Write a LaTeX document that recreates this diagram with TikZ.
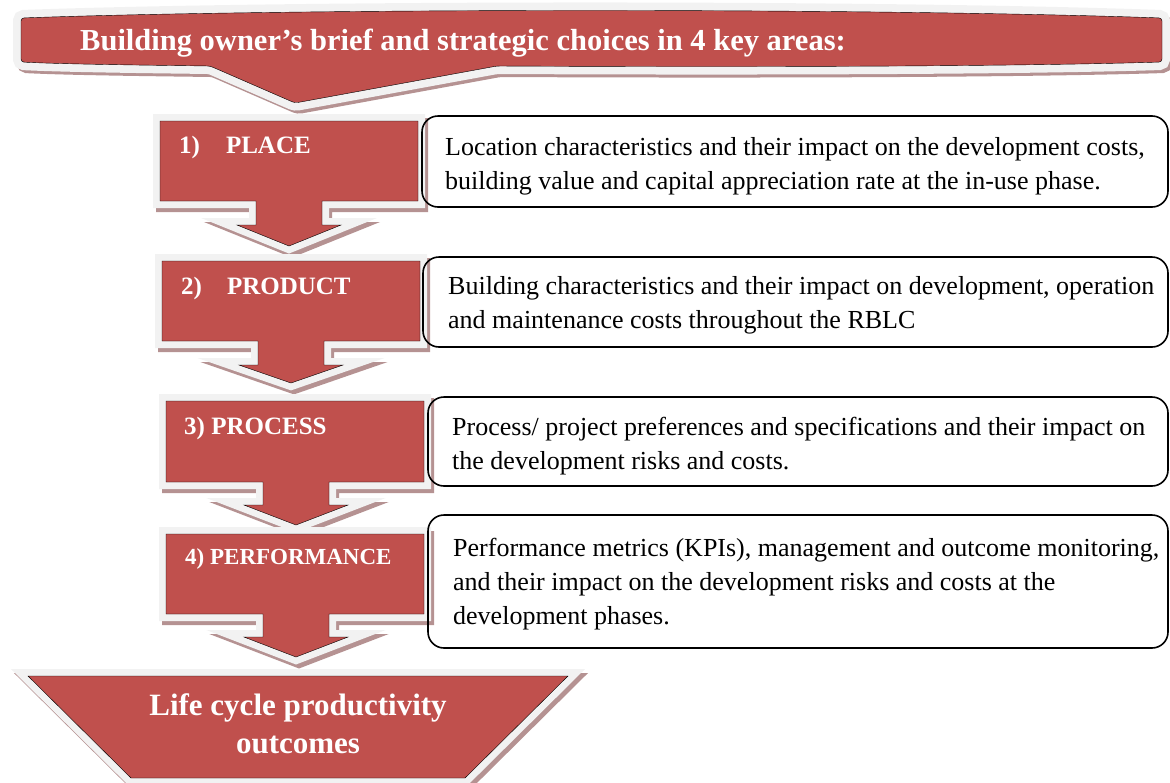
\documentclass[tikz,border=0pt]{standalone}
\usepackage{fontspec}
\setmainfont{Liberation Serif}
\definecolor{boxred}{RGB}{192,80,77}
\definecolor{rimgray}{RGB}{242,242,242}
\definecolor{shadowred}{RGB}{181,146,146}
% banner with pointer at the top
\newcommand{\bannershape}[1]{%
  \draw[#1,rounded corners=3pt] (21,-18) .. controls (300,-8) and (880,-8) .. (1162,-18)
    -- (1162,-62) .. controls (1000,-67) and (700,-67) .. (497,-66) -- (295,-103)
    -- (210,-66) .. controls (130,-65) and (60,-64) .. (21,-62) -- cycle;}
% box with arrow below: style, left, right, top, bottom, centre, stem end, tip
\newcommand{\stepshape}[8]{%
  \draw[#1] (#2,-#4) -- (#3,-#4) -- (#3,-#5) -- ({#6+33},-#5) -- ({#6+33},-#7)
    -- ({#6+52},-#7) -- (#6,-#8) -- ({#6-52},-#7) -- ({#6-33},-#7) -- ({#6-33},-#5)
    -- (#2,-#5) -- cycle;}
\newcommand{\outshape}[1]{%
  \draw[#1] (28,-676) -- (568,-676) -- (465,-778) -- (131,-778) -- cycle;}

\begin{document}
\begin{tikzpicture}[x=1pt,y=1pt,
  rim/.style={draw=rimgray,fill=rimgray,line width=14pt,line join=miter},
  dropshadow/.style={draw=shadowred,fill=shadowred,line width=14pt,line join=miter,shift={(3,-4)}},
  redfill/.style={fill=boxred},
  descbox/.style={draw=black,line width=1.6pt,rounded corners=16pt},
  desctext/.style={anchor=base west,align=left,inner sep=0pt,font=\fontsize{26}{34}\selectfont},
  steptext/.style={anchor=base west,inner sep=0pt,text=white,font=\fontsize{25}{30}\selectfont\bfseries}]
  \useasboundingbox (0,0) rectangle (1170,-782);

  \bannershape{dropshadow}
  \bannershape{rim,line width=16pt}
  \bannershape{redfill}
  \node[steptext,font=\fontsize{30.5}{36}\selectfont\bfseries] (brief) at (80,-50)
    {Building owner’s brief and strategic choices in 4 key areas:};

  \foreach \L/\R/\T/\B/\C/\S/\Y in {160/418/121/201/289/225/246, 162/420/261/341/291/365/383,
                                   166/424/401/482/296/505/525, 166/424/534/614/296/637/657}{% one step each
    \stepshape{dropshadow}{\L}{\R}{\T}{\B}{\C}{\S}{\Y}
    \stepshape{rim}{\L}{\R}{\T}{\B}{\C}{\S}{\Y}
    \stepshape{redfill}{\L}{\R}{\T}{\B}{\C}{\S}{\Y}
  }
  \node[steptext] (place) at (179,-153) {1)\hspace{26pt}PLACE};
  \node[steptext] (product) at (181,-294) {2)\hspace{25pt}PRODUCT};
  \node[steptext] (process) at (184,-434) {3) PROCESS};
  \node[steptext,font=\fontsize{23}{28}\selectfont\bfseries] (performance) at (185,-564) {4) PERFORMANCE};

  \outshape{dropshadow}
  \outshape{rim}
  \outshape{redfill}
  % base of a node with two lines is its last line
  \node[steptext,anchor=base,align=center,font=\fontsize{31}{38}\selectfont\bfseries] (outcome) at (298,-753)
    {Life cycle productivity\\outcomes};

  \foreach \L/\T/\B in {422/116/207, 423/257/347, 428/397/486, 428/515/648}
    \draw[descbox] (\L,-\T) rectangle (1168,-\B);
  \node[desctext] (location) at (445,-189)
    {Location characteristics and their impact on the development costs,\\
     building value and capital appreciation rate at the in-use phase.};
  \node[desctext] (building) at (448,-328)
    {Building characteristics and their impact on development, operation\\
     and maintenance costs throughout the RBLC};
  \node[desctext] (preferences) at (452,-469)
    {Process/ project preferences and specifications and their impact on\\
     the development risks and costs.};
  \node[desctext] (metrics) at (453,-624)
    {Performance metrics (KPIs), management and outcome monitoring,\\
     and their impact on the development risks and costs at the\\
     development phases.};
\end{tikzpicture}
\end{document}
